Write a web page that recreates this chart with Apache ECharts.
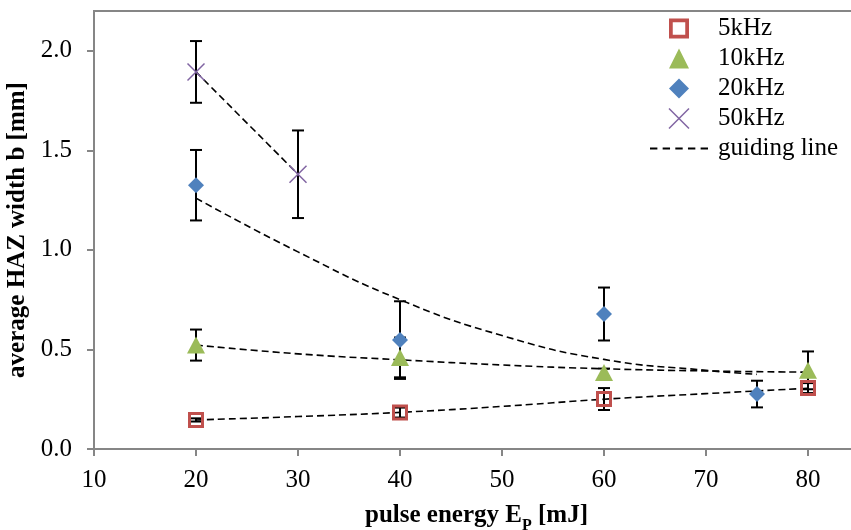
<!DOCTYPE html>
<html>
<head>
<meta charset="utf-8">
<script src="https://cdn.jsdelivr.net/npm/echarts@6/dist/echarts.min.js"></script>
<style>
html, body { margin: 0; padding: 0; background: #fff; }
#chart { width: 851px; height: 530px; }
</style>
</head>
<body>
<div id="chart"></div>
<script>
// measured points: pulse energy [mJ] -> average HAZ width [mm], with error (+/-)
var x5 = [20, 40, 60, 80];
var y5 = [0.146, 0.183, 0.251, 0.306];
var e5 = [0.008, 0.025, 0.055, 0.025];

var x10 = [20, 40, 60, 80];
var y10 = [0.522, 0.46, 0.384, 0.395];
var e10 = [0.078, 0.1, 0.02, 0.095];

var x20 = [20, 40, 60, 75];
var y20 = [1.325, 0.547, 0.678, 0.276];
var e20 = [0.177, 0.195, 0.133, 0.067];

var x50 = [20, 30];
var y50 = [1.894, 1.38];
var e50 = [0.155, 0.22];

// guiding lines
var g5x = [20, 30, 40, 50, 60, 70, 80];
var g5y = [0.146, 0.163, 0.184, 0.214, 0.25, 0.278, 0.305];
var g10x = [20, 30, 40, 50, 60, 70, 80];
var g10y = [0.522, 0.478, 0.448, 0.422, 0.403, 0.392, 0.386];
var g20x = [20, 30, 40, 50, 60, 70, 75];
var g20y = [1.26, 0.99, 0.75, 0.57, 0.45, 0.395, 0.375];
var g50x = [20, 30];
var g50y = [1.894, 1.38];

var yTicks = [0, 0.5, 1, 1.5, 2];

var FONT = '"Liberation Serif", "Times New Roman", serif';
var AXIS_GREY = '#868686';

function pairs(xs, ys) {
    var out = [];
    for (var i = 0; i < xs.length; i++) {
        out.push([xs[i], ys[i]]);
    }
    return out;
}

function bars(xs, ys, es) {
    var out = [];
    for (var i = 0; i < xs.length; i++) {
        out.push([xs[i], ys[i] - es[i], ys[i] + es[i]]);
    }
    return out;
}

var errData = [].concat(bars(x5, y5, e5), bars(x10, y10, e10), bars(x20, y20, e20), bars(x50, y50, e50));

function renderErrorBar(params, api) {
    var x = api.value(0);
    var top = api.coord([x, api.value(2)]);
    var bot = api.coord([x, api.value(1)]);
    var w = 6;
    var st = { stroke: '#000', lineWidth: 2 };
    return {
        type: 'group',
        children: [
            { type: 'line', shape: { x1: top[0], y1: top[1], x2: bot[0], y2: bot[1] }, style: st },
            { type: 'line', shape: { x1: top[0] - w, y1: top[1], x2: top[0] + w, y2: top[1] }, style: st },
            { type: 'line', shape: { x1: bot[0] - w, y1: bot[1], x2: bot[0] + w, y2: bot[1] }, style: st }
        ]
    };
}

function guide(xs, ys) {
    return {
        name: 'guiding line',
        type: 'line',
        data: pairs(xs, ys),
        smooth: true,
        symbol: 'none',
        z: 3,
        itemStyle: { color: '#000' },
        lineStyle: { color: '#000', width: 1.6, type: [7, 4] }
    };
}

// marker shapes; the legend only keeps the aspect of path icons
var crossPath = 'path://M0,0L10,10M10,0L0,10';
var frameIcon = 'path://M0,0h16v16h-16z M3,3v10h10v-10z';
var triIcon = 'path://M8,0L16,16L0,16z';
var diamondIcon = 'path://M8,0L16,8L8,16L0,8z';
var dashIcon = 'path://M0,0h7v2h-7z M12,0h7v2h-7z M24,0h7v2h-7z M36,0h7v2h-7z M48,0h7v2h-7z';

var chart = echarts.init(document.getElementById('chart'));

var option = {
    backgroundColor: '#fff',
    animation: false,
    grid: {
        left: 94,
        top: 11,
        right: -8,
        bottom: 81,
        show: true,
        borderColor: AXIS_GREY,
        borderWidth: 2,
        outerBoundsMode: 'none'
    },
    legend: {
        orient: 'vertical',
        left: 645,
        top: 11,
        itemWidth: 58,
        itemHeight: 20,
        itemGap: 5,
        selectedMode: false,
        textStyle: { fontFamily: FONT, fontSize: 25, color: '#000', lineHeight: 24, padding: [0, 0, 0, 5] },
        data: [
            { name: '5kHz', icon: frameIcon, itemStyle: { color: '#C0504D', borderWidth: 0 } },
            { name: '10kHz', icon: triIcon },
            { name: '20kHz', icon: diamondIcon },
            { name: '50kHz', icon: crossPath, itemStyle: { borderWidth: 1.5 } },
            { name: 'guiding line', icon: dashIcon, itemStyle: { color: '#000' } }
        ]
    },
    xAxis: {
        type: 'value',
        min: 10,
        max: 85,
        interval: 10,
        name: '{t|pulse energy E}{s|P}{t| [mJ]}',
        nameLocation: 'middle',
        nameGap: 42,
        nameTextStyle: {
            rich: {
                t: { fontFamily: FONT, fontSize: 25, fontWeight: 'bold', color: '#000', lineHeight: 24 },
                s: { fontFamily: FONT, fontSize: 16, fontWeight: 'bold', color: '#000', lineHeight: 15, padding: [20, 0, 0, 0] }
            }
        },
        splitLine: { show: false },
        axisLine: { lineStyle: { color: AXIS_GREY, width: 2 } },
        axisTick: { length: 7, lineStyle: { color: AXIS_GREY, width: 2 } },
        axisLabel: { fontFamily: FONT, fontSize: 25, color: '#000', margin: 19, showMaxLabel: false }
    },
    yAxis: {
        type: 'value',
        min: 0,
        max: 2.2,
        interval: 0.5,
        name: 'average HAZ width b [mm]',
        nameLocation: 'middle',
        nameGap: 58,
        nameTextStyle: { fontFamily: FONT, fontSize: 25, fontWeight: 'bold', color: '#000' },
        splitLine: { show: false },
        axisLine: { lineStyle: { color: AXIS_GREY, width: 2 } },
        axisTick: { length: 7, customValues: yTicks, lineStyle: { color: AXIS_GREY, width: 2 } },
        axisLabel: {
            fontFamily: FONT, fontSize: 25, color: '#000', margin: 22,
            customValues: yTicks,
            formatter: function (v) { return v.toFixed(1); }
        }
    },
    series: [
        {
            type: 'custom',
            renderItem: renderErrorBar,
            data: errData,
            encode: { x: 0, y: [1, 2] },
            z: 2,
            silent: true
        },
        guide(g5x, g5y),
        guide(g10x, g10y),
        guide(g20x, g20y),
        guide(g50x, g50y),
        {
            name: '5kHz',
            type: 'scatter',
            data: pairs(x5, y5),
            symbol: 'rect',
            symbolSize: 13,
            z: 4,
            itemStyle: { color: 'rgba(255,255,255,0)', borderColor: '#C0504D', borderWidth: 3, opacity: 1 }
        },
        {
            name: '10kHz',
            type: 'scatter',
            data: pairs(x10, y10),
            symbol: 'triangle',
            symbolSize: [18, 17],
            z: 4,
            itemStyle: { color: '#9BBB59', opacity: 1 }
        },
        {
            name: '20kHz',
            type: 'scatter',
            data: pairs(x20, y20),
            symbol: 'diamond',
            symbolSize: 16,
            z: 4,
            itemStyle: { color: '#4F81BD', opacity: 1 }
        },
        {
            name: '50kHz',
            type: 'scatter',
            data: pairs(x50, y50),
            symbol: crossPath,
            symbolSize: 17,
            z: 4,
            itemStyle: { color: 'none', borderColor: '#8064A2', borderWidth: 1.5, opacity: 1 }
        }
    ]
};

chart.setOption(option);
</script>
</body>
</html>
